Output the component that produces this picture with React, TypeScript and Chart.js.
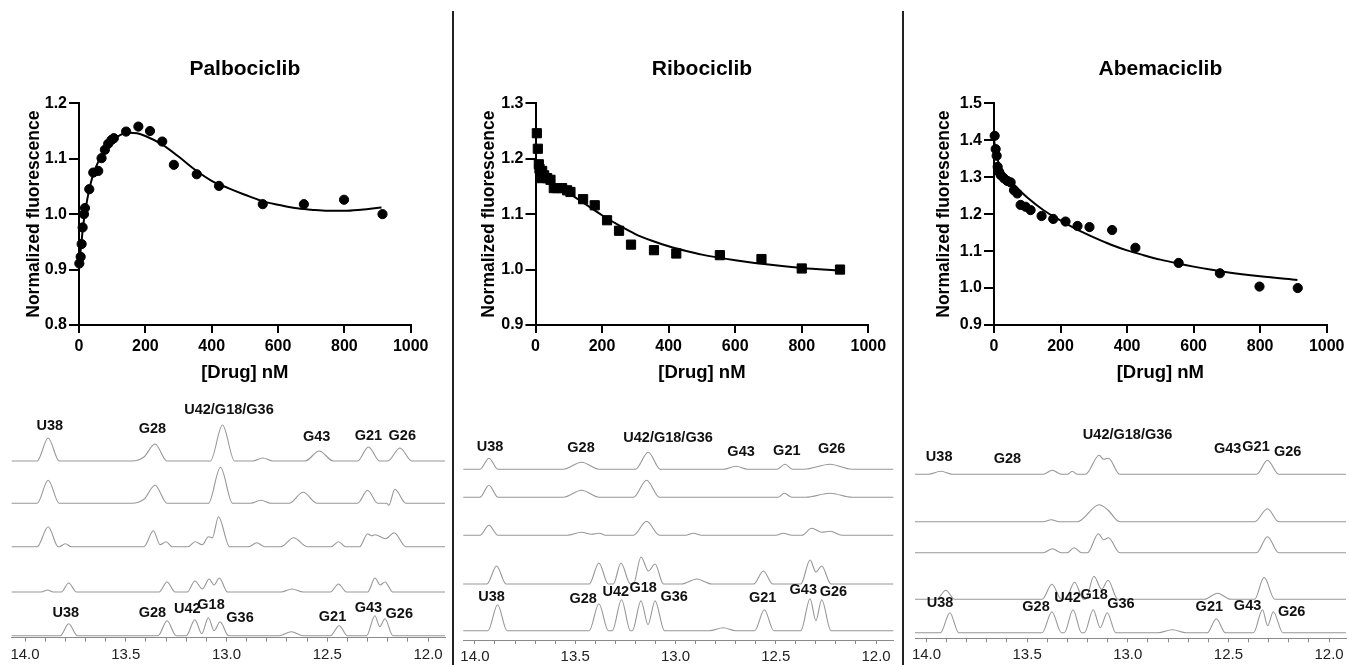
import React, { useEffect, useRef } from 'react';
import { Chart, registerables } from 'chart.js';
Chart.register(...registerables);

const FONT = '"Liberation Sans", Arial, Helvetica, sans-serif';
Chart.defaults.font.family = FONT;

// ---------- Titration data (top row) ----------
const drugTitles = ['Palbociclib', 'Ribociclib', 'Abemaciclib'];

const palboConc = [1, 5, 8, 11, 15, 18, 31, 43, 58, 68, 78, 88, 98, 105, 142, 179, 214, 251, 286, 355, 422, 554, 678, 799, 915];
const palboFluor = [0.911, 0.923, 0.946, 0.976, 1.0, 1.011, 1.045, 1.075, 1.078, 1.101, 1.116, 1.127, 1.134, 1.137, 1.149, 1.158, 1.15, 1.131, 1.089, 1.072, 1.051, 1.018, 1.018, 1.026, 1.0];
const palboFitX = [0, 5, 10, 15, 20, 30, 40, 50, 60, 75, 100, 125, 150, 175, 200, 250, 300, 350, 400, 450, 500, 550, 600, 650, 700, 750, 800, 850, 912];
const palboFitY = [0.905, 0.935, 0.965, 0.99, 1.01, 1.042, 1.066, 1.083, 1.097, 1.113, 1.132, 1.143, 1.147, 1.146, 1.141, 1.126, 1.104, 1.08, 1.06, 1.047, 1.035, 1.024, 1.017, 1.011, 1.008, 1.006, 1.006, 1.008, 1.012];

const riboConc = [4, 7, 10, 12, 14, 16, 20, 26, 35, 45, 55, 65, 80, 95, 105, 143, 178, 215, 251, 287, 356, 423, 554, 679, 800, 915];
const riboFluor = [1.246, 1.218, 1.19, 1.182, 1.172, 1.165, 1.178, 1.17, 1.165, 1.162, 1.147, 1.147, 1.147, 1.143, 1.14, 1.127, 1.116, 1.089, 1.07, 1.045, 1.035, 1.029, 1.026, 1.019, 1.002, 1.0];
const riboFitX = [0, 5, 10, 25, 50, 100, 150, 200, 250, 300, 350, 400, 450, 500, 600, 700, 800, 915];
const riboFitY = [1.2, 1.188, 1.18, 1.168, 1.157, 1.138, 1.118, 1.098, 1.08, 1.064, 1.052, 1.042, 1.034, 1.027, 1.017, 1.009, 1.003, 0.998];

const abemaConc = [2, 5, 8, 11, 15, 20, 30, 40, 50, 60, 70, 80, 95, 110, 143, 178, 215, 251, 287, 355, 425, 555, 679, 798, 913];
const abemaFluor = [1.412, 1.376, 1.358, 1.328, 1.315, 1.306, 1.297, 1.29, 1.286, 1.265, 1.256, 1.225, 1.22, 1.211, 1.195, 1.187, 1.18, 1.168, 1.165, 1.157, 1.109, 1.068, 1.04, 1.004, 1.0];
const abemaFitX = [0, 10, 25, 50, 75, 100, 150, 200, 250, 300, 350, 400, 450, 500, 550, 600, 650, 700, 800, 912];
const abemaFitY = [1.4, 1.35, 1.318, 1.29, 1.266, 1.245, 1.21, 1.183, 1.158, 1.137, 1.118, 1.102, 1.089, 1.077, 1.067, 1.058, 1.05, 1.043, 1.032, 1.022];

const xTickStep = 200;
const yTickStep = 0.1;

// ---------- Imino 1H NMR spectra (bottom row), [ppm, intensity] knots ----------
const palboNmr1 = [[14.07,0],[13.94,0],[13.885,23],[13.83,0],[13.47,0],[13.41,4],[13.355,17],[13.295,0],[13.08,0],[13.02,36],[12.96,0],[12.87,0],[12.82,3],[12.77,0],[12.61,0],[12.54,10],[12.47,0],[12.35,0],[12.296,14],[12.24,0],[12.20,0],[12.14,13],[12.08,0],[11.9,0]];
const palboNmr2 = [[14.07,0],[13.94,0],[13.885,23],[13.83,0],[13.47,0],[13.41,4],[13.355,18],[13.295,0],[13.09,0],[13.03,36],[12.97,0],[12.88,0],[12.83,3],[12.78,0],[12.69,0],[12.62,11],[12.55,0],[12.35,0],[12.30,13],[12.25,0],[12.205,0],[12.195,-2],[12.165,14],[12.11,0],[11.9,0]];
const palboNmr3 = [[14.07,0],[13.94,0],[13.885,20],[13.835,0],[13.83,0],[13.80,3],[13.77,0],[13.41,0],[13.363,16],[13.33,2],[13.30,5],[13.27,0],[13.19,0],[13.156,5],[13.12,2],[13.09,10],[13.07,9],[13.04,30],[12.985,0],[12.89,0],[12.85,4],[12.81,0],[12.73,0],[12.667,9],[12.60,0],[12.48,0],[12.444,5],[12.41,0],[12.34,0],[12.30,13],[12.28,11],[12.263,12],[12.21,8],[12.168,14],[12.11,0],[11.9,0]];
const palboNmr4 = [[14.07,0],[13.92,0],[13.888,2],[13.86,0],[13.82,0],[13.783,9],[13.745,0],[13.335,0],[13.295,10],[13.255,0],[13.195,0],[13.157,11],[13.12,3],[13.086,13],[13.062,7],[13.036,14],[12.995,0],[12.73,0],[12.675,3],[12.62,0],[12.485,0],[12.444,8],[12.405,0],[12.30,0],[12.263,14],[12.238,7],[12.214,10],[12.175,0],[11.9,0]];
const palboNmr5 = [[14.07,0],[13.825,0],[13.783,12],[13.74,0],[13.34,0],[13.295,15],[13.25,0],[13.20,0],[13.157,16],[13.123,2],[13.09,18],[13.062,5],[13.032,14],[12.99,0],[12.74,0],[12.678,4],[12.62,0],[12.485,0],[12.441,10],[12.40,0],[12.305,0],[12.264,20],[12.24,9],[12.214,17],[12.175,0],[11.9,0]];

const riboNmr1 = [[14.07,0],[13.975,0],[13.93,11],[13.885,0],[13.56,0],[13.468,7],[13.38,0],[13.20,0],[13.136,17],[13.075,0],[12.76,0],[12.698,3],[12.64,0],[12.495,0],[12.454,5],[12.415,0],[12.36,0],[12.229,5],[12.12,0],[11.9,0]];
const riboNmr2 = [[14.07,0],[13.975,0],[13.93,12],[13.885,0],[13.56,0],[13.468,7],[13.38,0],[13.21,0],[13.144,17],[13.08,0],[12.49,0],[12.457,4],[12.42,0],[12.35,0],[12.229,4],[12.12,0],[11.9,0]];
const riboNmr3 = [[14.07,0],[13.975,0],[13.93,10],[13.885,0],[13.54,0],[13.468,3],[13.42,1],[13.377,2],[13.35,0],[13.21,0],[13.144,14],[13.08,0],[12.95,0],[12.911,2],[12.87,0],[12.50,0],[12.462,2],[12.42,0],[12.37,0],[12.321,7],[12.27,3],[12.229,4],[12.17,0],[11.9,0]];
const riboNmr4 = [[14.07,0],[13.94,0],[13.892,18],[13.845,0],[13.43,0],[13.382,21],[13.335,0],[13.31,0],[13.272,21],[13.225,0],[13.21,0],[13.172,27],[13.135,13],[13.102,20],[13.06,0],[12.97,0],[12.894,5],[12.82,0],[12.61,0],[12.562,13],[12.515,0],[12.375,0],[12.329,24],[12.30,12],[12.271,18],[12.225,0],[11.9,0]];
const riboNmr5 = [[14.07,0],[13.935,0],[13.887,26],[13.84,0],[13.43,0],[13.382,27],[13.335,0],[13.315,0],[13.269,31],[13.225,0],[13.215,0],[13.172,30],[13.137,6],[13.102,30],[13.055,0],[12.83,0],[12.762,3],[12.70,0],[12.605,0],[12.557,21],[12.51,0],[12.375,0],[12.329,32],[12.30,10],[12.271,31],[12.225,0],[11.9,0]];

const abemaNmr1 = [[14.07,0],[13.99,0],[13.929,3],[13.87,0],[13.42,0],[13.375,4],[13.33,0],[13.30,0],[13.276,3],[13.25,0],[13.21,0],[13.142,19],[13.12,15],[13.096,16],[13.04,0],[12.36,0],[12.306,14],[12.25,0],[11.9,0]];
const abemaNmr2 = [[14.07,0],[13.42,0],[13.38,2],[13.34,0],[13.25,0],[13.142,17],[13.10,12],[13.04,0],[12.37,0],[12.306,13],[12.25,0],[11.9,0]];
const abemaNmr3 = [[14.07,0],[13.42,0],[13.375,4],[13.33,0],[13.30,0],[13.267,5],[13.23,0],[13.20,0],[13.146,19],[13.12,13],[13.096,15],[13.04,0],[12.36,0],[12.306,16],[12.25,0],[11.9,0]];
const abemaNmr4 = [[14.07,0],[13.95,0],[13.904,9],[13.86,0],[13.425,0],[13.377,15],[13.33,0],[13.31,0],[13.264,17],[13.22,0],[13.21,0],[13.168,23],[13.13,10],[13.098,19],[13.05,0],[12.62,0],[12.554,6],[12.49,0],[12.37,0],[12.323,22],[12.27,0],[11.9,0]];
const abemaNmr5 = [[14.07,0],[13.93,0],[13.884,20],[13.84,0],[13.425,0],[13.377,21],[13.33,0],[13.315,0],[13.272,23],[13.23,0],[13.215,0],[13.172,23],[13.137,5],[13.102,20],[13.06,0],[12.85,0],[12.778,3],[12.71,0],[12.605,0],[12.56,14],[12.515,0],[12.375,0],[12.331,23],[12.305,7],[12.277,21],[12.23,0],[11.9,0]];

// peak assignment labels: [text, ppm, height above axis]
const palboLabels = [
  ['U38', 13.877, 211.7], ['G28', 13.368, 208.7], ['U42/G18/G36', 12.988, 227.7], ['G43', 12.553, 200.7], ['G21', 12.296, 201.7], ['G26', 12.128, 201.7],
  ['U38', 13.798, 25], ['G28', 13.368, 24.7], ['U42', 13.195, 28.7], ['G18', 13.077, 32.7], ['G36', 12.933, 19.7], ['G21', 12.474, 20.7], ['G43', 12.296, 29.7], ['G26', 12.143, 23.7],
];
const riboLabels = [
  ['U38', 13.925, 193.3], ['G28', 13.471, 191.7], ['U42/G18/G36', 13.037, 202], ['G43', 12.673, 188], ['G21', 12.445, 189.3], ['G26', 12.221, 190.7],
  ['U38', 13.917, 43.3], ['G28', 13.46, 41], ['U42', 13.298, 47.7], ['G18', 13.161, 51.7], ['G36', 13.007, 43.3], ['G21', 12.565, 41.7], ['G43', 12.363, 50], ['G26', 12.213, 48.3],
];
const abemaLabels = [
  ['U38', 13.937, 181.6], ['G28', 13.598, 179], ['U42/G18/G36', 13.001, 203.3], ['G43', 12.504, 189], ['G21', 12.363, 191.6], ['G26', 12.206, 186.6],
  ['U38', 13.933, 35], ['G28', 13.456, 31.6], ['U42', 13.299, 40], ['G18', 13.167, 43.3], ['G36', 13.034, 34], ['G21', 12.595, 31], ['G43', 12.405, 32.6], ['G26', 12.186, 26.7],
];

const ppmTicks = [14.0, 13.9, 13.8, 13.7, 13.6, 13.5, 13.4, 13.3, 13.2, 13.1, 13.0, 12.9, 12.8, 12.7, 12.6, 12.5, 12.4, 12.3, 12.2, 12.1, 12.0];

// ---------- layout (pixels) ----------
const TOP_H = 395;
const NMR_TOP = 395;

type TopCfg = {
  left: number; width: number; axisX: number; rightX: number; yTitleX: number;
  title: string; xs: number[]; ys: number[]; fx: number[]; fy: number[];
  ymin: number; ymax: number; pointStyle: string; radius: number;
};

function TopChart({ cfg }: { cfg: TopCfg }) {
  const ref = useRef<HTMLCanvasElement | null>(null);
  useEffect(() => {
    if (!ref.current) return;
    const padL = cfg.yTitleX - 14 - cfg.left;
    const yW = cfg.axisX - cfg.left - padL;
    const padR = cfg.left + cfg.width - cfg.rightX;
    const titlePlugin = {
      id: 'panelTitle',
      afterDraw(chart: any) {
        const { ctx, chartArea } = chart;
        ctx.save();
        ctx.font = `bold 21px ${FONT}`;
        ctx.fillStyle = '#000';
        ctx.textAlign = 'center';
        ctx.textBaseline = 'middle';
        ctx.fillText(cfg.title, (chartArea.left + chartArea.right) / 2, 69);
        ctx.restore();
      },
    };
    const chart = new Chart(ref.current, {
      type: 'line',
      data: {
        datasets: [
          {
            data: cfg.xs.map((x, i) => ({ x, y: cfg.ys[i] })),
            showLine: false,
            pointStyle: cfg.pointStyle as any,
            pointRadius: cfg.radius,
            pointHoverRadius: cfg.radius,
            pointBackgroundColor: '#000',
            pointBorderColor: '#000',
            pointBorderWidth: 1,
            clip: false as any,
            order: 0,
          },
          {
            data: cfg.fx.map((x, i) => ({ x, y: cfg.fy[i] })),
            borderColor: '#000',
            borderWidth: 2,
            pointRadius: 0,
            cubicInterpolationMode: 'monotone',
            fill: false,
            clip: false as any,
            order: 1,
          },
        ],
      },
      options: {
        animation: false,
        responsive: false,
        devicePixelRatio: 1,
        events: [],
        layout: { padding: { left: padL, right: padR, top: 103.3, bottom: 0 } },
        plugins: { legend: { display: false }, tooltip: { enabled: false } },
        scales: {
          x: {
            type: 'linear',
            min: 0,
            max: 1000,
            ticks: { stepSize: xTickStep, color: '#000', padding: 4, maxRotation: 0, font: { size: 16, weight: 'bold' }, callback: (v: any) => String(Math.round(Number(v))) },
            grid: { drawOnChartArea: false, tickLength: 8, lineWidth: 2, color: '#000' },
            border: { color: '#000', width: 2 },
            title: { display: true, text: '[Drug] nM', color: '#000', font: { size: 18.5, weight: 'bold' }, padding: { top: 0, bottom: 11.2 } },
            afterFit: (s: any) => { s.height = TOP_H - 325; },
          },
          y: {
            type: 'linear',
            min: cfg.ymin,
            max: cfg.ymax,
            ticks: { stepSize: yTickStep, color: '#000', padding: 2, font: { size: 16, weight: 'bold' }, callback: (v: any) => Number(v).toFixed(1) },
            grid: { drawOnChartArea: false, tickLength: 10, lineWidth: 2, color: '#000' },
            border: { color: '#000', width: 2 },
            title: { display: true, text: 'Normalized fluorescence', color: '#000', font: { size: 17.5, weight: 'bold' }, padding: { top: 3.5, bottom: 0 } },
            afterFit: (s: any) => { s.width = yW; },
          },
        },
      } as any,
      plugins: [titlePlugin],
    });
    return () => chart.destroy();
  }, []);
  return (
    <canvas
      ref={ref}
      width={cfg.width}
      height={TOP_H}
      style={{ position: 'absolute', left: cfg.left, top: 0, width: cfg.width, height: TOP_H }}
    />
  );
}

type NmrCfg = {
  left: number; width: number; padL: number; padR: number; axisY: number;
  min: number; max: number; traces: number[][][]; offsets: number[]; labels: any[];
};

function NmrChart({ cfg }: { cfg: NmrCfg }) {
  const ref = useRef<HTMLCanvasElement | null>(null);
  useEffect(() => {
    if (!ref.current) return;
    const labelPlugin = {
      id: 'peakLabels',
      afterDatasetsDraw(chart: any) {
        const { ctx, scales } = chart;
        ctx.save();
        ctx.font = `bold 14.5px ${FONT}`;
        ctx.fillStyle = '#111';
        ctx.textAlign = 'center';
        ctx.textBaseline = 'middle';
        cfg.labels.forEach(([t, ppm, y]: any) => {
          ctx.fillText(t, scales.x.getPixelForValue(ppm), scales.y.getPixelForValue(y));
        });
        ctx.restore();
      },
    };
    const chart = new Chart(ref.current, {
      type: 'line',
      data: {
        datasets: cfg.traces.map((tr, i) => ({
          data: tr.map(([x, v]) => ({ x, y: v + cfg.offsets[i] })),
          borderColor: '#979797',
          borderWidth: 1.1,
          pointRadius: 0,
          cubicInterpolationMode: 'monotone',
          fill: false,
        })),
      },
      options: {
        animation: false,
        responsive: false,
        devicePixelRatio: 1,
        events: [],
        layout: { padding: { left: cfg.padL, right: cfg.padR, top: 0, bottom: 0 } },
        plugins: { legend: { display: false }, tooltip: { enabled: false } },
        scales: {
          x: {
            type: 'linear',
            reverse: true,
            min: cfg.min,
            max: cfg.max,
            afterBuildTicks: (s: any) => { s.ticks = ppmTicks.map((v) => ({ value: v })); },
            ticks: {
              autoSkip: false,
              maxRotation: 0,
              color: '#222',
              padding: 4,
              font: { size: 15 },
              callback: (v: any) => {
                const n = Number(v);
                return Math.abs(n * 2 - Math.round(n * 2)) < 1e-6 ? n.toFixed(1) : '';
              },
            },
            grid: { drawOnChartArea: false, tickLength: 4, lineWidth: 1, color: '#8a8a8a' },
            border: { color: '#8a8a8a', width: 1 },
            afterFit: (s: any) => { s.height = 665 - cfg.axisY; },
          },
          y: { type: 'linear', display: false, min: 0, max: cfg.axisY - NMR_TOP },
        },
      } as any,
      plugins: [labelPlugin],
    });
    return () => chart.destroy();
  }, []);
  return (
    <canvas
      ref={ref}
      width={cfg.width}
      height={665 - NMR_TOP}
      style={{ position: 'absolute', left: cfg.left, top: NMR_TOP, width: cfg.width, height: 665 - NMR_TOP }}
    />
  );
}

const topCfgs: TopCfg[] = [
  { left: 0, width: 450, axisX: 79, rightX: 410.7, yTitleX: 34, title: drugTitles[0], xs: palboConc, ys: palboFluor, fx: palboFitX, fy: palboFitY, ymin: 0.8, ymax: 1.2, pointStyle: 'circle', radius: 4.6 },
  { left: 455, width: 445, axisX: 535.5, rightX: 868.3, yTitleX: 489.3, title: drugTitles[1], xs: riboConc, ys: riboFluor, fx: riboFitX, fy: riboFitY, ymin: 0.9, ymax: 1.3, pointStyle: 'rect', radius: 6.5 },
  { left: 905, width: 444, axisX: 994, rightX: 1326.7, yTitleX: 944.5, title: drugTitles[2], xs: abemaConc, ys: abemaFluor, fx: abemaFitX, fy: abemaFitY, ymin: 0.9, ymax: 1.5, pointStyle: 'circle', radius: 4.6 },
];

const nmrCfgs: NmrCfg[] = [
  { left: 0, width: 450, padL: 11.7, padR: 5, axisY: 637.7, min: 11.916, max: 14.066, traces: [palboNmr1, palboNmr2, palboNmr3, palboNmr4, palboNmr5], offsets: [176.7, 134.4, 91, 45.7, 2], labels: palboLabels },
  { left: 455, width: 445, padL: 8.3, padR: 6.7, axisY: 640, min: 11.914, max: 14.058, traces: [riboNmr1, riboNmr2, riboNmr3, riboNmr4, riboNmr5], offsets: [170.7, 142.7, 104.7, 56, 9.3], labels: riboLabels },
  { left: 905, width: 444, padL: 10, padR: 3, axisY: 638.3, min: 11.916, max: 14.057, traces: [abemaNmr1, abemaNmr2, abemaNmr3, abemaNmr4, abemaNmr5], offsets: [164, 116.6, 85.6, 39, 5.6], labels: abemaLabels },
];

export default function App() {
  return (
    <div style={{ position: 'fixed', left: 0, top: 0, width: 1349, height: 665, background: '#fff', overflow: 'hidden' }}>
      {topCfgs.map((c, i) => <TopChart key={'t' + i} cfg={c} />)}
      {nmrCfgs.map((c, i) => <NmrChart key={'n' + i} cfg={c} />)}
      <div style={{ position: 'absolute', left: 451.7, top: 11, width: 2, height: 654, background: '#222' }} />
      <div style={{ position: 'absolute', left: 902.3, top: 11, width: 2, height: 654, background: '#222' }} />
    </div>
  );
}
